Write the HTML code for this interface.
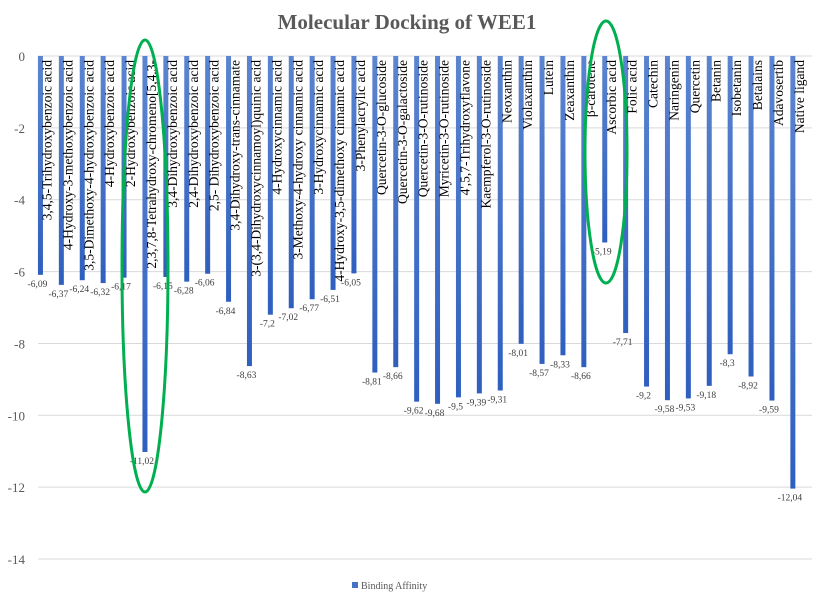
<!DOCTYPE html>
<html><head><meta charset="utf-8"><style>
body{margin:0;background:#fff;}
svg{display:block;font-family:"Liberation Serif",serif;}
</style></head><body>
<svg id="chart" width="813" height="603">
<defs><linearGradient id="bg" x1="0" y1="0" x2="0" y2="1"><stop offset="0" stop-color="#5b85d0"/><stop offset="1" stop-color="#2f5fbf"/></linearGradient></defs>
<text x="407" y="29" text-anchor="middle" font-size="21" font-weight="bold" fill="#595959">Molecular Docking of WEE1</text>
<g id="grid"></g><g id="bars"></g><g id="labels"></g>
<ellipse cx="145" cy="266" rx="23" ry="226" fill="none" stroke="#00b050" stroke-width="3"/>
<ellipse cx="606" cy="152" rx="21" ry="131" fill="none" stroke="#00b050" stroke-width="3"/>
<rect x="352" y="582" width="6" height="6" fill="#4472c4"/>
<text x="361" y="589" font-size="10" fill="#595959">Binding Affinity</text>
</svg>
<script>
const categories=["3,4,5-Trihydroxybenzoic acid","4-Hydroxy-3-methoxybenzoic acid","3,5-Dimethoxy-4-hydroxybenzoic acid","4-Hydroxybenzoic acid","2-Hydroxybenzoic acid","2,3,7,8-Tetrahydroxy-chromeno[5,4,3-","3,4-Dihydroxybenzoic acid","2,4-Dihydroxybenzoic acid","2,5- Dihydroxybenzoic acid","3,4-Dihydroxy-trans-cinnamate","3-(3,4-Dihydroxycinnamoyl)quinic acid","4-Hydroxycinnamic acid","3-Methoxy-4-hydroxy cinnamic acid","3-Hydroxycinnamic acid","4-Hydroxy-3,5-dimethoxy cinnamic acid","3-Phenylacrylic acid","Quercetin-3-O-glucoside","Quercetin-3-O-galactoside","Quercetin-3-O-rutinoside","Myricetin-3-O-rutinoside","4',5,7-Trihydroxyflavone","Kaempferol-3-O-rutinoside","Neoxanthin","Violaxanthin","Lutein","Zeaxanthin","β-carotene","Ascorbic acid","Folic acid","Catechin","Naringenin","Quercetin","Betanin","Isobetanin","Betalains","Adavosertib","Native ligand"];
const values=[-6.09,-6.37,-6.24,-6.32,-6.17,-11.02,-6.15,-6.28,-6.06,-6.84,-8.63,-7.2,-7.02,-6.77,-6.51,-6.05,-8.81,-8.66,-9.62,-9.68,-9.5,-9.39,-9.31,-8.01,-8.57,-8.33,-8.66,-5.19,-7.71,-9.2,-9.58,-9.53,-9.18,-8.3,-8.92,-9.59,-12.04];
const ticks=[0,-2,-4,-6,-8,-10,-12,-14];
const NS="http://www.w3.org/2000/svg";
const y0=56,unit=35.93,x0=30.5,step=20.9,plotR=812;
const y=v=>y0-v*unit;
const x=i=>x0+step*i+step/2;
function mk(t,a,p){const e=document.createElementNS(NS,t);for(const k in a)e.setAttribute(k,a[k]);p.appendChild(e);return e;}
const G=document.getElementById('grid'),B=document.getElementById('bars'),L=document.getElementById('labels');
ticks.forEach(t=>{
 const l=mk('line',{x1:38,x2:plotR,y1:y(t),y2:y(t),stroke:'#d9d9d9','stroke-width':1},G);
 
 
 const tx=mk('text',{x:25,y:y(t)+5,'text-anchor':'end','font-size':13,fill:'#595959'},G);
 tx.textContent=String(t);
 
 
});
values.forEach((v,i)=>{
 const cx=x(i)-0.5;
 const r=mk('rect',{x:cx-2.5,y:y0,width:5,height:y(v)-y0,fill:'url(#bg)'},B);
 
 
 const vt=mk('text',{x:cx-3,y:y(v)+12,'text-anchor':'middle','font-size':9.5,fill:'#404040'},L);
 vt.textContent=String(v).replace('.',',');
 
 
 const ct=mk('text',{x:0,y:0,'text-anchor':'end','font-size':13.5,fill:'#000',transform:'translate('+(cx+11)+','+(y0+4)+') rotate(-90)'},L);
 ct.textContent=categories[i];
 
 
});
</script>
</body></html>
